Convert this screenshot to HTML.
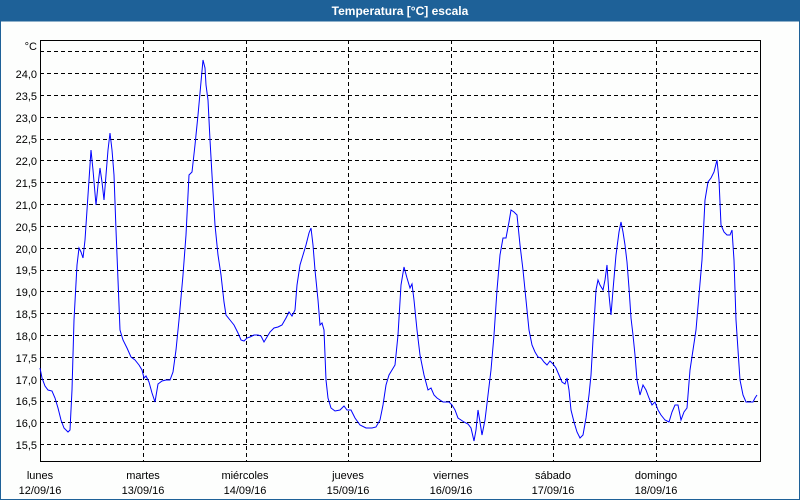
<!DOCTYPE html>
<html><head><meta charset="utf-8"><style>
html,body{margin:0;padding:0;background:#fff;}
svg{display:block;font-family:"Liberation Sans",sans-serif;}
</style></head><body>
<svg width="800" height="500" viewBox="0 0 800 500">
<rect x="0" y="0" width="800" height="500" fill="#fdfefd"/>
<rect x="0" y="0" width="800" height="21" fill="#1e6198"/>
<rect x="0.5" y="21" width="799" height="478.5" fill="none" stroke="#1e6198" stroke-width="1"/>
<text x="400" y="15" fill="#fff" font-size="12" font-weight="bold" text-anchor="middle">Temperatura [°C] escala</text>
<g stroke="#000" stroke-width="1" stroke-dasharray="4,3" fill="none">
<path d="M40 51.5H760M40 73.5H760M40 95.5H760M40 117.5H760M40 139.5H760M40 160.5H760M40 182.5H760M40 204.5H760M40 226.5H760M40 248.5H760M40 270.5H760M40 291.5H760M40 313.5H760M40 335.5H760M40 357.5H760M40 379.5H760M40 401.5H760M40 422.5H760M40 444.5H760"/>
<path d="M143.5 40V461M246.5 40V461M348.5 40V461M451.5 40V461M553.5 40V461M656.5 40V461"/>
</g>
<rect x="40.5" y="40.5" width="720" height="421" fill="none" stroke="#000" stroke-width="1"/>
<g font-size="11" fill="#000" text-anchor="end">
<text x="37" y="50">°C</text>
<text x="37" y="78">24,0</text><text x="37" y="100">23,5</text><text x="37" y="122">23,0</text>
<text x="37" y="143">22,5</text><text x="37" y="165">22,0</text><text x="37" y="187">21,5</text>
<text x="37" y="209">21,0</text><text x="37" y="231">20,5</text><text x="37" y="253">20,0</text>
<text x="37" y="274">19,5</text><text x="37" y="296">19,0</text><text x="37" y="318">18,5</text>
<text x="37" y="340">18,0</text><text x="37" y="362">17,5</text><text x="37" y="384">17,0</text>
<text x="37" y="405">16,5</text><text x="37" y="427">16,0</text><text x="37" y="449">15,5</text>
</g>
<g font-size="11" fill="#000" text-anchor="middle">
<text x="40" y="479">lunes</text><text x="40" y="494">12/09/16</text>
<text x="143" y="479">martes</text><text x="143" y="494">13/09/16</text>
<text x="245" y="479">miércoles</text><text x="245" y="494">14/09/16</text>
<text x="348" y="479">jueves</text><text x="348" y="494">15/09/16</text>
<text x="451" y="479">viernes</text><text x="451" y="494">16/09/16</text>
<text x="553" y="479">sábado</text><text x="553" y="494">17/09/16</text>
<text x="656" y="479">domingo</text><text x="656" y="494">18/09/16</text>
</g>
<polyline fill="none" stroke="#0000ff" stroke-width="1" points="40,368 42,378 45,386 48,390 52,391 55,398 58,408 61,420 64,428 68,432 70,430 72,390 74,320 77,265 79,248 81,252 83,258 85,240 88,195 91,150 93,170 96,205 98,185 100,168 102,182 104,200 106,175 108,150 110,133 112,150 114,175 116,230 118,280 120,330 123,340 127,348 131,357 135,360 139,365 142,370 144,378 146,376 149,382 152,393 155,402 158,384 162,381 166,380 170,380 173,372 176,350 179,320 183,275 186,235 189,175 192,172 195,145 198,115 201,82 203,60 205,68 206,85 208,100 210,140 212,175 215,225 218,255 221,275 224,302 226,315 230,320 234,325 238,333 241,340 244,341 247,338 250,337 254,335 258,335 261,336 264,342 267,337 270,332 274,328 278,327 282,325 286,318 289,312 292,316 295,310 297,285 300,265 303,255 306,245 309,233 311,228 313,245 315,270 318,300 320,325 322,323 324,330 326,380 328,398 331,408 335,411 340,410 344,406 347,410 351,410 355,418 360,425 366,428 372,428 376,427 380,420 383,405 386,385 389,375 392,370 395,365 398,335 401,285 404,267 407,278 410,288 412,284 414,300 417,330 420,355 424,375 428,390 431,388 434,395 437,398 440,400 443,402 446,402 449,402 452,405 455,410 458,418 461,420 464,422 468,424 471,428 474,441 476,430 478,410 480,422 482,435 485,420 488,395 491,370 494,335 497,290 500,255 503,238 506,238 509,222 511,210 514,212 517,215 520,245 523,270 526,300 529,330 532,345 535,352 538,357 541,358 544,362 547,365 550,361 553,364 556,368 559,375 562,382 565,384 567,378 569,390 571,410 574,422 577,432 580,438 583,435 586,418 589,395 591,375 593,340 596,290 598,280 600,285 603,290 605,280 607,265 609,295 611,315 613,290 616,255 619,232 621,222 623,232 625,245 627,262 629,288 631,318 633,335 635,355 637,380 640,395 643,385 646,390 649,398 652,405 655,402 658,410 661,415 665,420 669,422 672,412 675,405 678,405 681,420 684,412 687,408 690,370 693,350 696,330 699,295 702,260 705,200 708,182 711,178 714,172 717,160 719,180 721,225 724,232 727,235 730,235 732,230 734,260 736,320 738,350 740,380 743,395 746,402 750,402 753,402 755,398 757,395"/>
</svg>
</body></html>
